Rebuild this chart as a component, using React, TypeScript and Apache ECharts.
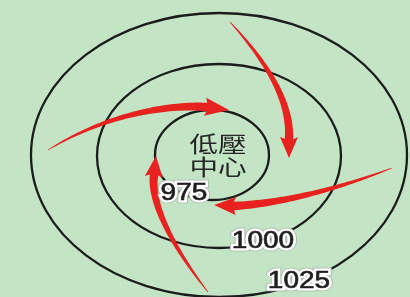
import React, { useEffect, useRef } from "react";
import * as echarts from "echarts";

// ---- data ----
const isobarValues = ["975", "1000", "1025"];
const centerLabelLines = ["低壓", "中心"];

// ---- geometry (diagram layout) ----
const ellipseGeom = [
  { cx: 212, cy: 155, rx: 57, ry: 45 },
  { cx: 219, cy: 156, rx: 122, ry: 92 },
  { cx: 219, cy: 155, rx: 188, ry: 142 },
];
const labelGeom = [
  [184, 192],
  [263, 240],
  [299, 280],
];
type P = [number, number];
const arrowGeom: { p: P[]; tip: P }[] = [
  { p: [[48, 150], [100, 118], [160, 104], [207, 107]], tip: [229, 110] },
  { p: [[230, 22], [265, 60], [291, 100], [289, 139]], tip: [289, 158] },
  { p: [[392, 168], [340, 188], [285, 203], [234, 206]], tip: [214, 205] },
  { p: [[208, 292], [175, 250], [150, 205], [154, 175]], tip: [156, 156] },
];

function bez(p: P[], t: number): P {
  const u = 1 - t;
  const a = u * u * u, b = 3 * u * u * t, c = 3 * u * t * t, d = t * t * t;
  return [
    a * p[0][0] + b * p[1][0] + c * p[2][0] + d * p[3][0],
    a * p[0][1] + b * p[1][1] + c * p[2][1] + d * p[3][1],
  ];
}
function bezD(p: P[], t: number): P {
  const u = 1 - t;
  return [
    3 * u * u * (p[1][0] - p[0][0]) + 6 * u * t * (p[2][0] - p[1][0]) + 3 * t * t * (p[3][0] - p[2][0]),
    3 * u * u * (p[1][1] - p[0][1]) + 6 * u * t * (p[2][1] - p[1][1]) + 3 * t * t * (p[3][1] - p[2][1]),
  ];
}

function arrowPolygon(p: P[], tip: P, w0: number, w1: number, hh: number): P[] {
  const N = 40;
  const left: P[] = [];
  const right: P[] = [];
  for (let i = 0; i <= N; i++) {
    const t = i / N;
    const b = bez(p, t);
    const d = bezD(p, t);
    const l = Math.hypot(d[0], d[1]) || 1;
    const n: P = [-d[1] / l, d[0] / l];
    const w = (w0 + (w1 - w0) * Math.pow(t, 0.8)) / 2;
    left.push([b[0] + n[0] * w, b[1] + n[1] * w]);
    right.push([b[0] - n[0] * w, b[1] - n[1] * w]);
  }
  const e = p[3];
  const dx = tip[0] - e[0], dy = tip[1] - e[1];
  const l = Math.hypot(dx, dy) || 1;
  const n: P = [-dy / l, dx / l];
  const back: P = [e[0] - (dx / l) * 2, e[1] - (dy / l) * 2];
  const head: P[] = [
    [back[0] + n[0] * hh, back[1] + n[1] * hh],
    tip,
    [back[0] - n[0] * hh, back[1] - n[1] * hh],
  ];
  return [...left, ...head, ...right.reverse()];
}

export default function App() {
  const ref = useRef<HTMLDivElement>(null);
  useEffect(() => {
    if (!ref.current) return;
    const chart = echarts.init(ref.current, undefined, { renderer: "svg" });
    const elements: any[] = [];
    elements.push({
      type: "rect",
      shape: { x: 0, y: 0, width: 410, height: 297 },
      style: { fill: "#c4e4c6" },
      z: 0,
    });
    ellipseGeom.forEach((g) => {
      elements.push({
        type: "ellipse",
        shape: { cx: g.cx, cy: g.cy, rx: g.rx, ry: g.ry },
        style: { fill: "none", stroke: "#1c1c1c", lineWidth: 2.3 },
        z: 1,
      });
    });
    arrowGeom.forEach((a) => {
      elements.push({
        type: "polygon",
        shape: { points: arrowPolygon(a.p, a.tip, 0.6, 8.5, 9) },
        style: { fill: "#e8231f", stroke: "none" },
        z: 2,
      });
    });
    const digitFont = "23px 'Liberation Sans', Arial, sans-serif";
    const textBase = {
      x: 0, y: 0, font: digitFont,
      align: "center", verticalAlign: "middle",
      textAlign: "center", textVerticalAlign: "middle",
    };
    isobarValues.forEach((v, i) => {
      const [x, y] = labelGeom[i];
      elements.push({
        type: "text", x, y, scaleX: 1.22,
        style: { ...textBase, text: v, fill: "#aab5aa", stroke: "#aab5aa", lineWidth: 6.5 },
        z: 3,
      });
      elements.push({
        type: "text", x, y, scaleX: 1.22,
        style: { ...textBase, text: v, fill: "#ffffff", stroke: "#ffffff", lineWidth: 5 },
        z: 4,
      });
      elements.push({
        type: "text", x, y, scaleX: 1.22,
        style: { ...textBase, text: v, fill: "#1e1e1e", stroke: "#1e1e1e", lineWidth: 0.6 },
        z: 5,
      });
    });
    centerLabelLines.forEach((line, i) => {
      elements.push({
        type: "text",
        x: 218, y: 142 + i * 23, scaleX: 1.3,
        style: {
          text: line, x: 0, y: 0,
          font: "22px 'Noto Sans CJK TC', sans-serif",
          fill: "#262626",
          align: "center", verticalAlign: "middle",
          textAlign: "center", textVerticalAlign: "middle",
        },
        z: 5,
      });
    });
    chart.setOption({ animation: false, graphic: { elements } });
    return () => chart.dispose();
  }, []);
  return (
    <div
      ref={ref}
      style={{ position: "fixed", left: 0, top: 0, width: 410, height: 297 }}
    />
  );
}
